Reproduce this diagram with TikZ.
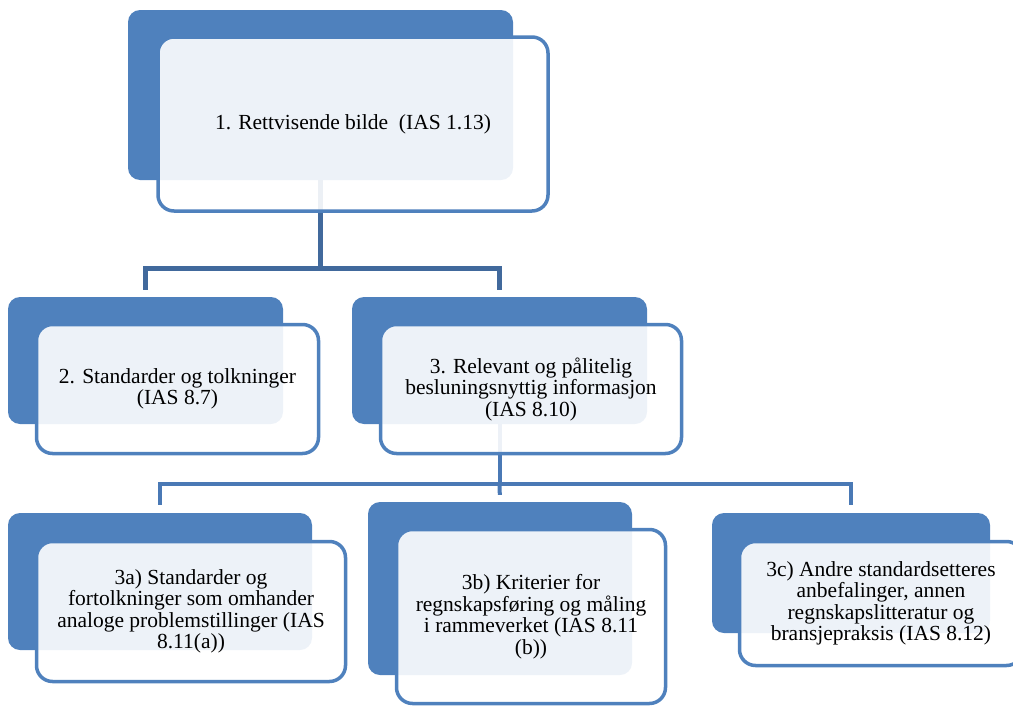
\documentclass[tikz,border=0pt]{standalone}
\usepackage{fontspec}
\setmainfont{Liberation Serif}
\usetikzlibrary{backgrounds}
\definecolor{accblue}{HTML}{4F81BD}
\definecolor{linkdark}{HTML}{41699C}
\definecolor{linklight}{HTML}{4A79B5}

\begin{document}
\begin{tikzpicture}[x=1pt, y=-1pt,
  back/.style={fill=accblue, rounded corners=12pt, inner sep=0pt},
  front/.style={draw=accblue, line width=3.5pt, fill=white, fill opacity=0.9,
    text opacity=1, rounded corners=16pt, align=center, inner sep=0pt,
    font=\fontsize{21.5}{21.5}\selectfont},
  tree1/.style={draw=linkdark, line width=5pt},
  tree2/.style={draw=linklight, line width=4pt}
]
  \useasboundingbox (0,0) rectangle (1013,707);
  \clip (0,0) rectangle (1013,707);

  % level 1
  \node[back, minimum width=385pt, minimum height=170pt] (b1) at (320.5,95) {};
  \node[front, minimum width=390pt, minimum height=174pt] (f1) at (353,124)
    {1. Rettvisende bilde \ (IAS 1.13)};

  % level 2
  \node[back, minimum width=275pt, minimum height=127pt] (b2) at (145.5,360.5) {};
  \node[front, minimum width=282pt, minimum height=129pt] (f2) at (177.5,389)
    {2. Standarder og tolkninger\\(IAS 8.7)};
  \node[back, minimum width=295pt, minimum height=127pt] (b3) at (499.5,360.5) {};
  \node[front, minimum width=301pt, minimum height=129pt] (f3) at (531,389)
    {3. Relevant og pålitelig\\besluningsnyttig informasjon\\(IAS 8.10)};

  % level 3
  \node[back, minimum width=304pt, minimum height=137pt] (b3a) at (160,581.5) {};
  \node[front, minimum width=309pt, minimum height=140pt] (f3a) at (191,611.5)
    {3a) Standarder og\\fortolkninger som omhander\\analoge problemstillinger (IAS\\8.11(a))};
  \node[back, minimum width=264pt, minimum height=173pt] (b3b) at (500,588.5) {};
  \node[front, minimum width=269pt, minimum height=174pt] (f3b) at (531,616.5)
    {3b) Kriterier for\\regnskapsføring og måling\\i rammeverket (IAS 8.11\\(b))};
  \node[back, minimum width=278pt, minimum height=120pt] (b3c) at (851,573) {};
  \node[front, minimum width=283pt, minimum height=124pt] (f3c) at (881,603.5)
    {3c) Andre standardsetteres\\anbefalinger, annen\\regnskapslitteratur og\\bransjepraksis (IAS 8.12)};

  % connectors
  \coordinate (j1) at (0,268);
  \coordinate (j2) at (0,484);
  \begin{scope}[on background layer]
    \draw[tree1] (b1.south) -- (b1.south |- j1);
    \draw[tree1, shorten >=7pt] (b1.south |- j1) -| (b2.north);
    \draw[tree1, shorten >=7pt] (b1.south |- j1) -| (b3.north);
    \draw[tree2] (b3.south) -- (b3.south |- j2);
    \draw[tree2, shorten >=8pt] (b3.south |- j2) -| (b3a.north);
    \draw[tree2, shorten >=7pt] (b3.south |- j2) -- (b3b.north);
    \draw[tree2, shorten >=8pt] (b3.south |- j2) -| (b3c.north);
  \end{scope}
\end{tikzpicture}
\end{document}
